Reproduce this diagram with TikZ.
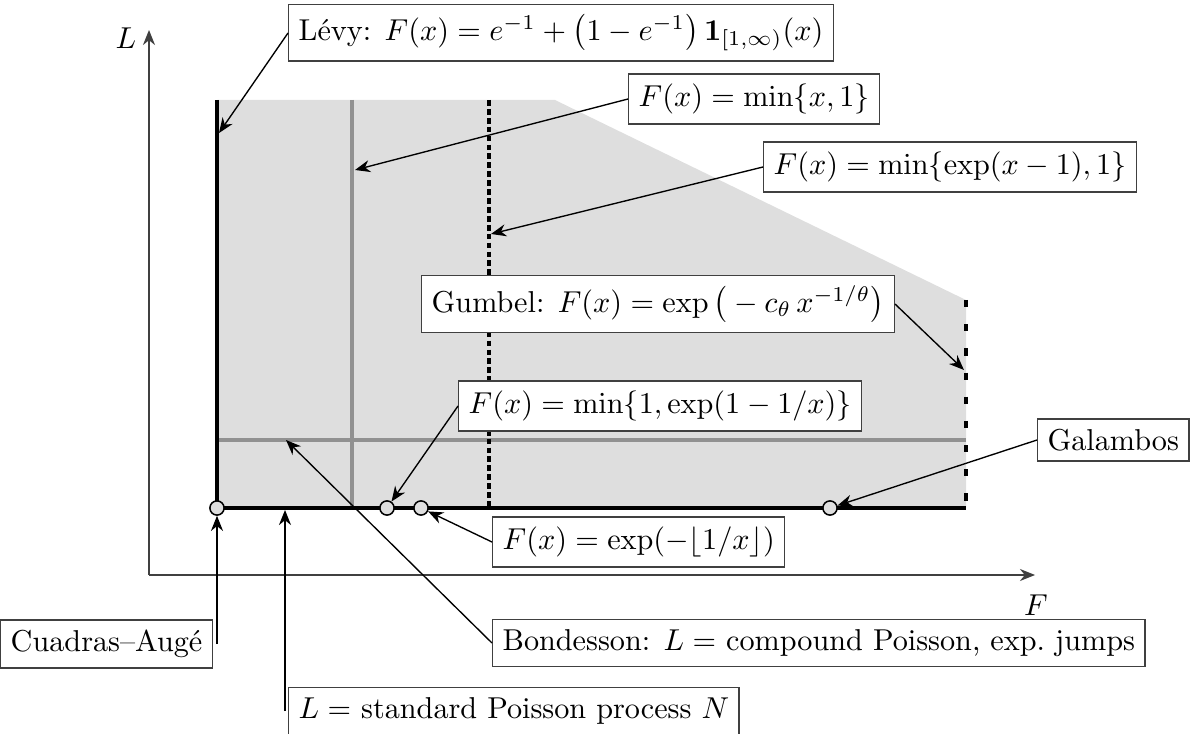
\documentclass[tikz,border=0pt]{standalone}
\usetikzlibrary{arrows.meta,calc}
\begin{document}
\begin{tikzpicture}[x=0.331pt,y=-0.331pt,
  lbl/.style={draw=black!75, fill=white, line width=0.45pt, inner sep=3.3pt},
  conn/.style={-{Stealth[length=5pt,width=4pt]}, line width=0.45pt},
  ax/.style={-{Stealth[length=5pt,width=4pt]}, draw=black!75, line width=0.5pt},
  pt/.style={circle, draw=black, line width=0.5pt, fill=black!13, minimum size=4.7pt, inner sep=0pt},
  grayline/.style={draw=black!43, line width=1.35pt},
  dotline/.style={draw=black, line width=1.45pt, dash pattern=on 1.9pt off 1.05pt},
  dashedge/.style={draw=black, line width=1.5pt, dash pattern=on 2.4pt off 5.6pt},
  boundary/.style={draw=black, line width=1.55pt}
]
\useasboundingbox (0,0) rectangle (1192,734);
% region
\fill[black!13] (217,100) -- (555,100) -- (966,300) -- (966,508) -- (217,508) -- cycle;
\draw[grayline] (352,100) -- (352,508);
\draw[grayline] (217,440) -- (966,440);
\draw[dotline] (489,100) -- (489,508);
\draw[dashedge] (966,300) -- (966,508);
\draw[boundary] (217,100) -- (217,508) -- (966,508);
% points
\node[pt] (c1) at (217,508) {};
\node[pt] (c2) at (387,508) {};
\node[pt] (c3) at (421,508) {};
\node[pt] (c4) at (830,508) {};
% axes
\coordinate (O) at (149,575);
\coordinate (Ltop) at (149,30);
\coordinate (Fend) at (1035,575);
\draw[ax] (O) -- (Ltop);
\draw[ax] (O) -- (Fend);
\node (Llab) at (126,38) {$L$};
\node (Flab) at (1036,605) {$F$};
% labels
\node[lbl, anchor=west] (levy) at (288,33) {L\'evy: $F(x) = e^{-1} + \bigl(1-e^{-1}\bigr)\,\mathbf{1}_{[1,\infty)}(x)$};
\node[lbl, anchor=west] (minx) at (628,99) {$F(x) = \min\{x,1\}$};
\node[lbl, anchor=west] (expx) at (763,167) {$F(x) = \min\{\exp(x-1),1\}$};
\node[lbl, anchor=east] (gumbel) at (895,304) {Gumbel: $F(x) = \exp\big(-c_\theta\, x^{-1/\theta}\big)$};
\node[lbl, anchor=west] (expinv) at (458,406) {$F(x) = \min\{1,\exp(1-1/x)\}$};
\node[lbl, anchor=west] (galambos) at (1037,440) {Galambos};
\node[lbl, anchor=west] (floor) at (492,542) {$F(x) = \exp(-\lfloor 1/x\rfloor)$};
\node[lbl, anchor=west] (bond) at (492,643) {Bondesson: $L = $ compound Poisson, exp.\ jumps};
\node[lbl, anchor=east] (ca) at (213,644) {Cuadras--Aug\'e};
\node[lbl, anchor=west] (poisson) at (288,711) {$L = $ standard Poisson process $N$};
% arrow targets
\coordinate (tLevy) at (219,133);
\coordinate (tMinx) at (355,170);
\coordinate (tExpx) at (491,234);
\coordinate (tGumbel) at (964,370);
\coordinate (tBond) at (286,440);
\coordinate (tPois) at (285,510);
\coordinate (sPois) at (285,711);
% connectors
\draw[conn] (levy.west) -- (tLevy);
\draw[conn] (minx.west) -- (tMinx);
\draw[conn] (expx.west) -- (tExpx);
\draw[conn] (gumbel.east) -- (tGumbel);
\draw[conn] (expinv.west) -- (c2);
\draw[conn] (galambos.west) -- (c4);
\draw[conn] (floor.west) -- (c3);
\draw[conn] (bond.west) -- (tBond);
\draw[conn] (ca.east -| c1) -- (c1);
\draw[conn] (sPois) -- (tPois);
\end{tikzpicture}
\end{document}
